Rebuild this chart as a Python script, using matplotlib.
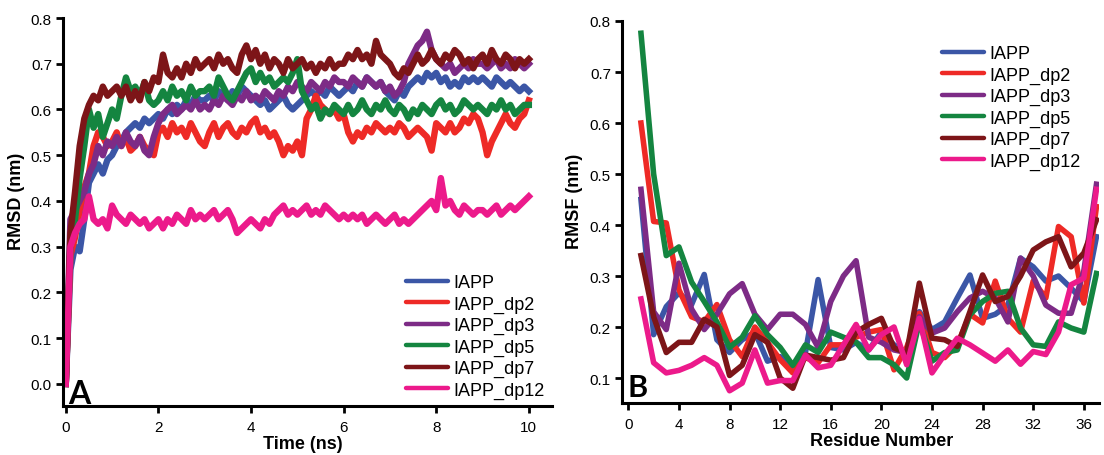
import numpy as np
import matplotlib
matplotlib.use('Agg')
import matplotlib.pyplot as plt

plt.rcParams['font.family'] = ['Liberation Sans', 'DejaVu Sans']

# RMSD vs time (sampled every 0.1 ns)
time_ns = np.linspace(0, 10, 101)

rmsd_iapp = [0.00, 0.25, 0.30, 0.29, 0.36, 0.44, 0.46, 0.48, 0.46, 0.49,
             0.50, 0.52, 0.53, 0.55, 0.56, 0.57, 0.56, 0.58, 0.57, 0.58,
             0.59, 0.58, 0.60, 0.59, 0.61, 0.60, 0.62, 0.61, 0.63, 0.62,
             0.62, 0.63, 0.62, 0.64, 0.63, 0.62, 0.64, 0.63, 0.65, 0.64,
             0.63, 0.62, 0.61, 0.62, 0.60, 0.61, 0.62, 0.63, 0.61, 0.60,
             0.61, 0.62, 0.63, 0.64, 0.63, 0.64, 0.63, 0.65, 0.64, 0.63,
             0.64, 0.65, 0.64, 0.66, 0.65, 0.67, 0.66, 0.65, 0.66, 0.64,
             0.63, 0.62, 0.64, 0.63, 0.65, 0.66, 0.67, 0.66, 0.68, 0.67,
             0.68, 0.66, 0.67, 0.65, 0.66, 0.65, 0.67, 0.66, 0.67, 0.66,
             0.67, 0.66, 0.65, 0.67, 0.66, 0.65, 0.66, 0.65, 0.64, 0.65, 0.64]

rmsd_dp2 = [0.00, 0.28, 0.32, 0.38, 0.43, 0.46, 0.52, 0.55, 0.54, 0.52,
            0.53, 0.55, 0.52, 0.54, 0.51, 0.52, 0.54, 0.52, 0.51, 0.50,
            0.55, 0.56, 0.54, 0.57, 0.55, 0.56, 0.54, 0.57, 0.55, 0.53,
            0.52, 0.55, 0.57, 0.54, 0.56, 0.57, 0.55, 0.54, 0.56, 0.55,
            0.57, 0.58, 0.55, 0.56, 0.54, 0.55, 0.53, 0.50, 0.52, 0.51,
            0.53, 0.50, 0.58, 0.60, 0.63, 0.61, 0.60, 0.59, 0.60, 0.58,
            0.59, 0.55, 0.53, 0.55, 0.54, 0.56, 0.55, 0.57, 0.56, 0.55,
            0.56, 0.55, 0.57, 0.56, 0.54, 0.55, 0.56, 0.55, 0.54, 0.51,
            0.57, 0.56, 0.55, 0.57, 0.55, 0.56, 0.58, 0.57, 0.59, 0.58,
            0.55, 0.50, 0.53, 0.55, 0.57, 0.59, 0.57, 0.56, 0.58, 0.59, 0.62]

rmsd_dp3 = [0.00, 0.36, 0.38, 0.40, 0.42, 0.46, 0.48, 0.52, 0.50, 0.53,
            0.52, 0.54, 0.52, 0.55, 0.53, 0.52, 0.54, 0.51, 0.50, 0.54,
            0.57, 0.59, 0.60, 0.61, 0.59, 0.60, 0.61, 0.60, 0.62, 0.60,
            0.61, 0.60, 0.62, 0.61, 0.63, 0.62, 0.61, 0.63, 0.62, 0.64,
            0.62, 0.63, 0.62, 0.64, 0.63, 0.62, 0.64, 0.63, 0.65, 0.64,
            0.66, 0.65, 0.64, 0.66, 0.65, 0.64, 0.66, 0.65, 0.67, 0.66,
            0.66, 0.65, 0.67, 0.66, 0.65, 0.67, 0.66, 0.65, 0.66, 0.64,
            0.65, 0.63, 0.64, 0.66, 0.70, 0.72, 0.74, 0.75, 0.77, 0.73,
            0.71, 0.70, 0.69, 0.70, 0.68, 0.69, 0.70, 0.69, 0.71, 0.70,
            0.70, 0.69, 0.70, 0.71, 0.69, 0.70, 0.69, 0.71, 0.70, 0.69, 0.70]

rmsd_dp5 = [0.00, 0.30, 0.36, 0.45, 0.52, 0.60, 0.56, 0.59, 0.54, 0.57,
            0.60, 0.58, 0.63, 0.67, 0.64, 0.65, 0.63, 0.66, 0.62, 0.61,
            0.62, 0.64, 0.62, 0.65, 0.63, 0.64, 0.62, 0.65, 0.63, 0.64,
            0.64, 0.65, 0.63, 0.67, 0.65, 0.63, 0.62, 0.64, 0.66, 0.68,
            0.69, 0.66, 0.68, 0.66, 0.67, 0.65, 0.66, 0.67, 0.66, 0.68,
            0.71, 0.64, 0.62, 0.60, 0.61, 0.58, 0.60, 0.59, 0.61, 0.60,
            0.59, 0.61, 0.59, 0.60, 0.62, 0.60, 0.59, 0.61, 0.60, 0.62,
            0.60, 0.59, 0.61, 0.60, 0.58, 0.60, 0.59, 0.61, 0.60, 0.59,
            0.61, 0.62, 0.60, 0.61, 0.59, 0.60, 0.62, 0.61, 0.60, 0.61,
            0.60, 0.59, 0.61, 0.60, 0.62, 0.60, 0.61, 0.59, 0.60, 0.61, 0.61]

rmsd_dp7 = [0.00, 0.33, 0.42, 0.52, 0.58, 0.61, 0.63, 0.62, 0.65, 0.63,
            0.64, 0.65, 0.63, 0.65, 0.62, 0.64, 0.62, 0.66, 0.64, 0.67,
            0.66, 0.72, 0.68, 0.67, 0.69, 0.67, 0.70, 0.68, 0.71, 0.69,
            0.70, 0.71, 0.69, 0.72, 0.70, 0.71, 0.69, 0.68, 0.72, 0.74,
            0.71, 0.73, 0.70, 0.72, 0.69, 0.71, 0.70, 0.68, 0.71, 0.69,
            0.70, 0.71, 0.69, 0.70, 0.68, 0.70, 0.69, 0.71, 0.69, 0.70,
            0.70, 0.72, 0.71, 0.73, 0.71, 0.72, 0.70, 0.75, 0.72, 0.71,
            0.70, 0.68, 0.67, 0.69, 0.68, 0.70, 0.72, 0.70, 0.71, 0.73,
            0.71, 0.70, 0.72, 0.71, 0.73, 0.72, 0.70, 0.71, 0.69, 0.71,
            0.72, 0.70, 0.73, 0.71, 0.70, 0.72, 0.71, 0.69, 0.71, 0.70, 0.71]

rmsd_dp12 = [0.00, 0.30, 0.33, 0.35, 0.36, 0.41, 0.36, 0.35, 0.36, 0.34,
             0.39, 0.37, 0.36, 0.35, 0.37, 0.36, 0.35, 0.36, 0.34, 0.35,
             0.36, 0.34, 0.36, 0.35, 0.37, 0.36, 0.35, 0.38, 0.36, 0.37,
             0.36, 0.37, 0.38, 0.36, 0.37, 0.38, 0.36, 0.33, 0.34, 0.35,
             0.36, 0.35, 0.34, 0.36, 0.35, 0.37, 0.38, 0.39, 0.37, 0.38,
             0.37, 0.38, 0.39, 0.37, 0.38, 0.37, 0.39, 0.38, 0.37, 0.36,
             0.37, 0.36, 0.37, 0.36, 0.37, 0.35, 0.36, 0.37, 0.36, 0.35,
             0.36, 0.37, 0.35, 0.36, 0.35, 0.36, 0.37, 0.38, 0.39, 0.40,
             0.38, 0.45, 0.39, 0.40, 0.38, 0.37, 0.39, 0.38, 0.37, 0.38,
             0.38, 0.37, 0.38, 0.39, 0.37, 0.38, 0.39, 0.38, 0.39, 0.40, 0.41]

# RMSF per residue (1..37)
residues = list(range(1, 38))
rmsf_iapp = [0.45, 0.185, 0.24, 0.267, 0.244, 0.303, 0.175, 0.15, 0.175, 0.19,
             0.133, 0.142, 0.123, 0.15, 0.293, 0.16, 0.155, 0.17, 0.155, 0.19,
             0.165, 0.15, 0.23, 0.195, 0.21, 0.257, 0.302, 0.217, 0.225, 0.243,
             0.335, 0.318, 0.29, 0.30, 0.276, 0.25, 0.377]
rmsf_dp2 = [0.60, 0.407, 0.404, 0.273, 0.22, 0.21, 0.244, 0.175, 0.142, 0.20,
            0.17, 0.136, 0.11, 0.14, 0.13, 0.165, 0.165, 0.18, 0.19, 0.195,
            0.116, 0.16, 0.227, 0.15, 0.14, 0.165, 0.225, 0.208, 0.29, 0.217,
            0.19, 0.29, 0.257, 0.397, 0.377, 0.247, 0.436]
rmsf_dp3 = [0.47, 0.23, 0.195, 0.325, 0.235, 0.195, 0.225, 0.265, 0.285, 0.225,
            0.195, 0.225, 0.225, 0.205, 0.16, 0.25, 0.30, 0.33, 0.18, 0.17,
            0.155, 0.15, 0.22, 0.188, 0.198, 0.23, 0.257, 0.27, 0.257, 0.21,
            0.335, 0.30, 0.243, 0.227, 0.227, 0.31, 0.48]
rmsf_dp5 = [0.776, 0.50, 0.34, 0.357, 0.288, 0.25, 0.21, 0.16, 0.18, 0.222,
            0.185, 0.16, 0.125, 0.165, 0.15, 0.19, 0.18, 0.17, 0.14, 0.14,
            0.126, 0.10, 0.21, 0.133, 0.15, 0.155, 0.224, 0.25, 0.266, 0.27,
            0.198, 0.165, 0.162, 0.21, 0.198, 0.19, 0.305]
rmsf_dp7 = [0.34, 0.22, 0.15, 0.17, 0.17, 0.215, 0.20, 0.105, 0.125, 0.185,
            0.17, 0.10, 0.08, 0.145, 0.14, 0.135, 0.14, 0.19, 0.205, 0.217,
            0.159, 0.149, 0.286, 0.178, 0.175, 0.162, 0.23, 0.302, 0.25, 0.26,
            0.30, 0.351, 0.367, 0.377, 0.318, 0.345, 0.41]
rmsf_dp12 = [0.255, 0.13, 0.11, 0.115, 0.125, 0.14, 0.125, 0.075, 0.09, 0.155,
             0.09, 0.095, 0.095, 0.145, 0.12, 0.125, 0.165, 0.205, 0.155, 0.185,
             0.20, 0.126, 0.217, 0.11, 0.146, 0.178, 0.165, 0.149, 0.133, 0.155,
             0.127, 0.152, 0.146, 0.19, 0.283, 0.296, 0.47]

labels = ['IAPP', 'IAPP_dp2', 'IAPP_dp3', 'IAPP_dp5', 'IAPP_dp7', 'IAPP_dp12']
colors = ['#3b56a6', '#ee2a26', '#7d2b86', '#148540', '#7d1518', '#ec1a8b']

rmsd_all = [rmsd_iapp, rmsd_dp2, rmsd_dp3, rmsd_dp5, rmsd_dp7, rmsd_dp12]
rmsf_all = [rmsf_iapp, rmsf_dp2, rmsf_dp3, rmsf_dp5, rmsf_dp7, rmsf_dp12]

W, H = 1104, 456
fig = plt.figure(figsize=(W / 100, H / 100), dpi=100)
ax1 = fig.add_axes([63/W, 1-407/H, 489/W, 388/H])
ax2 = fig.add_axes([622/W, 1-404/H, 477/W, 382/H])


def style_axis(ax):
    for side in ['top', 'right']:
        ax.spines[side].set_visible(False)
    for side in ['left', 'bottom']:
        ax.spines[side].set_linewidth(2.2)
    ax.tick_params(direction='out', length=5, width=2, labelsize=11, pad=3)
    ax.tick_params(axis='x', pad=5)


def add_legend(ax, x_px, y_px):
    leg = ax.legend(loc='upper left', bbox_to_anchor=(x_px/W, 1-y_px/H),
                    bbox_transform=fig.transFigure, frameon=False, fontsize=13,
                    handlelength=2.35, handletextpad=0.3, labelspacing=0.24,
                    borderpad=0, borderaxespad=0)
    for line in leg.get_lines():
        line.set_linewidth(3.2)
        line.set_solid_capstyle('round')


for vals, c, lab in zip(rmsd_all, colors, labels):
    ax1.plot(time_ns, vals, color=c, lw=4.6, label=lab, solid_joinstyle='round')
ax1.set_xlim(-0.06, 10.5)
ax1.set_ylim(-0.0483, 0.8)
ax1.set_xticks([0, 2, 4, 6, 8, 10])
ax1.set_yticks(np.arange(0, 0.81, 0.1))
ax1.yaxis.set_major_formatter(matplotlib.ticker.FormatStrFormatter('%.1f'))
style_axis(ax1)
ax1.set_xlabel('Time (ns)', fontsize=13, fontweight='bold')
ax1.set_ylabel('RMSD (nm)', fontsize=13, fontweight='bold')
ax1.xaxis.set_label_coords(0.49, -0.075)
ax1.yaxis.set_label_coords(-0.078, 0.53)
ax1.text(0.01, 0.008, 'A', transform=ax1.transAxes, fontsize=23,
         fontweight='bold', family=['Lato', 'DejaVu Sans'], va='baseline', ha='left')
add_legend(ax1, 406, 275)

for vals, c, lab in zip(rmsf_all, colors, labels):
    ax2.plot(residues, vals, color=c, lw=4, label=lab)
ax2.set_xlim(-0.5, 37.2)
ax2.set_ylim(0.051, 0.8)
ax2.set_xticks(range(0, 37, 4))
ax2.set_yticks(np.arange(0.1, 0.81, 0.1))
ax2.yaxis.set_major_formatter(matplotlib.ticker.FormatStrFormatter('%.1f'))
style_axis(ax2)
ax2.set_xlabel('Residue Number', fontsize=13, fontweight='bold')
ax2.set_ylabel('RMSF (nm)', fontsize=13, fontweight='bold')
ax2.xaxis.set_label_coords(0.545, -0.075)
ax2.yaxis.set_label_coords(-0.082, 0.53)
ax2.text(0.0105, 0.018, 'B', transform=ax2.transAxes, fontsize=22,
         fontweight='bold', family=['Lato', 'DejaVu Sans'], va='baseline', ha='left')
add_legend(ax2, 942, 46)

fig.savefig('out.png', dpi=100)
